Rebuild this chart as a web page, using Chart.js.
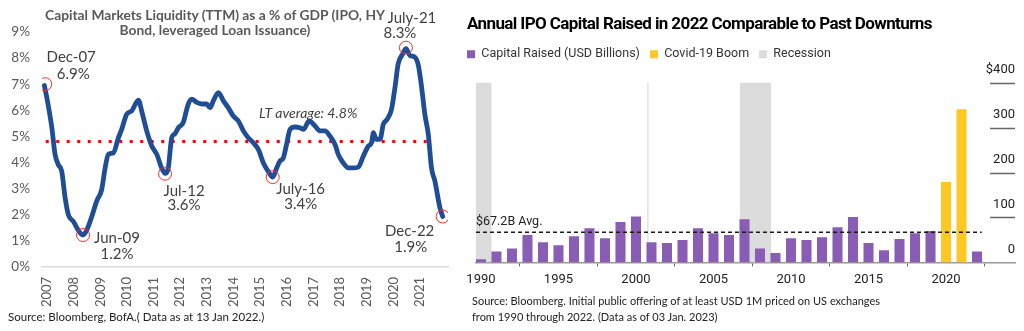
<!DOCTYPE html>
<html>
<head>
<meta charset="utf-8">
<script src="https://cdn.jsdelivr.net/npm/chart.js@4.4.1/dist/chart.umd.min.js"></script>
<style>
  html, body { margin: 0; padding: 0; background: #fff; }
  body { width: 1024px; height: 331px; position: relative; overflow: hidden; }
  .box { position: absolute; top: 0; height: 331px; }
  #leftBox { left: 0; width: 456px; }
  #rightBox { left: 457px; width: 567px; }
  .txt { position: absolute; white-space: nowrap; }
  #lTitle { left: 0; width: 430px; top: 7px; text-align: center; font: bold 13.8px Lato; color: #595959; line-height: 15px; }
  #lSource { left: 8px; top: 310px; font: 11.5px Lato; color: #222; line-height: 14px; }
  #rTitle { left: 467px; top: 12px; font: bold 17px Roboto; letter-spacing: -0.6px; color: #000; line-height: 22px; }
  #rSource { left: 472px; top: 293px; font: 11px Lato; color: #222; line-height: 16px; }
</style>
</head>
<body>
<div class="box" id="leftBox"><canvas id="liq"></canvas></div>
<div class="box" id="rightBox"><canvas id="ipo"></canvas></div>
<div class="txt" id="lTitle">Capital Markets Liquidity (TTM) as a % of GDP (IPO, HY<br>Bond, leveraged Loan Issuance)</div>
<div class="txt" id="lSource">Source: Bloomberg, BofA.( Data as at 13 Jan 2022.)</div>
<div class="txt" id="rTitle">Annual IPO Capital Raised in 2022 Comparable to Past Downturns</div>
<div class="txt" id="rSource">Source: Bloomberg. Initial public offering of at least USD 1M priced on US exchanges<br>from 1990 through 2022. (Data as of 03 Jan. 2023)</div>

<script>
// ---- left chart: liquidity as % of GDP ----
const liqDates = [
  2006.90, 2006.99, 2007.18, 2007.30, 2007.42, 2007.55, 2007.68, 2007.80, 2007.99, 2008.17,
  2008.34, 2008.49, 2008.68, 2008.86, 2009.05, 2009.18, 2009.30, 2009.49, 2009.68, 2009.80,
  2009.99, 2010.18, 2010.43, 2010.55, 2010.74, 2010.93, 2011.12, 2011.30, 2011.43, 2011.55,
  2011.68, 2011.80, 2011.93, 2012.11, 2012.30, 2012.43, 2012.62, 2012.80, 2012.99, 2013.12,
  2013.24, 2013.43, 2013.62, 2013.80, 2013.99, 2014.18, 2014.37, 2014.55, 2014.74, 2014.93,
  2015.12, 2015.30, 2015.47, 2015.62, 2015.74, 2015.87, 2015.99, 2016.12, 2016.31, 2016.49,
  2016.62, 2016.84, 2017.06, 2017.24, 2017.43, 2017.62, 2017.81, 2017.93, 2018.12, 2018.31,
  2018.49, 2018.68, 2018.87, 2019.06, 2019.18, 2019.25, 2019.35, 2019.50, 2019.62, 2019.77,
  2019.93, 2020.06, 2020.18, 2020.35, 2020.47, 2020.62, 2020.81, 2020.94, 2021.06, 2021.18,
  2021.31, 2021.43, 2021.56, 2021.75, 2021.85
];
const liqValues = [
  6.95, 6.49, 5.33, 4.31, 3.92, 3.66, 2.63, 1.99, 1.74, 1.41,
  1.22, 1.41, 1.93, 2.51, 2.96, 3.79, 4.31, 4.37, 4.95, 5.27,
  5.85, 5.98, 6.39, 5.98, 5.21, 4.63, 4.31, 3.79, 3.58, 3.79,
  4.95, 5.10, 5.33, 5.53, 6.24, 6.43, 6.30, 6.24, 6.24, 6.10,
  6.36, 6.68, 6.36, 6.10, 5.78, 5.59, 5.21, 4.95, 4.76, 4.50,
  3.98, 3.66, 3.44, 3.79, 4.05, 4.18, 4.69, 5.27, 5.36, 5.33,
  5.27, 5.59, 5.40, 5.21, 5.21, 5.01, 4.69, 4.31, 3.98, 3.79,
  3.79, 3.82, 4.24, 4.63, 4.76, 5.14, 4.89, 4.89, 5.46, 5.66,
  6.04, 6.88, 7.78, 8.16, 8.36, 8.10, 8.03, 7.71, 6.88, 5.85,
  5.08, 3.79, 3.28, 2.25, 1.93
];
const liqYearTicks = [2007, 2008, 2009, 2010, 2011, 2012, 2013, 2014, 2015, 2016, 2017, 2018, 2019, 2020, 2021];
const liqPctTicks = [0, 1, 2, 3, 4, 5, 6, 7, 8, 9];
const ltAverage = 4.8;
const ltAverageSpan = [2006.95, 2021.4];
const calloutNames = ['Dec-07', 'Jun-09', 'Jul-12', 'July-16', 'July-21', 'Dec-22'];
const calloutTexts = ['6.9%', '1.2%', '3.6%', '3.4%', '8.3%', '1.9%'];
const calloutDates = [2006.93, 2008.35, 2011.43, 2015.47, 2020.47, 2021.85];
const calloutValues = [7.0, 1.22, 3.57, 3.44, 8.4, 1.93];

// ---- right chart: annual IPO capital ----
const ipoYears = [1990, 1991, 1992, 1993, 1994, 1995, 1996, 1997, 1998, 1999, 2000, 2001, 2002, 2003, 2004, 2005,
  2006, 2007, 2008, 2009, 2010, 2011, 2012, 2013, 2014, 2015, 2016, 2017, 2018, 2019, 2020, 2021, 2022];
const ipoValues = [7, 24, 31, 61, 45, 38, 58, 76, 54, 90, 102, 45, 43, 50, 76, 65,
  61, 96, 31, 21, 54, 50, 56, 78, 101, 43, 27, 52, 65, 70, 179, 341, 24];
const covidYears = [2020, 2021];
const recessionStart = [1989.68, 2000.72, 2006.71];
const recessionEnd = [1990.69, 2000.82, 2008.71];
const ipoAverage = 67.2;
const ipoYearTicks = [1990, 1995, 2000, 2005, 2010, 2015, 2020];
const ipoValueTicks = [0, 100, 200, 300, 400];
const ipoValueLabels = ['0', '100', '200', '300', '$400'];

// red circles with their two-line labels
const calloutOffsets = [[26, -27, 28, -10], [34, 3, 34, 19], [19, 17, 19, 31], [28, 12, 28, 27], [6, -29, -6, -14], [-33, 15, -32, 31]];
const calloutPlugin = {
  id: 'callouts',
  afterDatasetsDraw(chart) {
    const {ctx, scales: {x, y}} = chart;
    ctx.save();
    ctx.fillStyle = '#404040';
    ctx.font = '15px Lato';
    ctx.textAlign = 'center';
    ctx.textBaseline = 'middle';
    calloutNames.forEach((name, i) => {
      const px = x.getPixelForValue(calloutDates[i]);
      const py = y.getPixelForValue(calloutValues[i]);
      const o = calloutOffsets[i];
      ctx.fillText(name, px + o[0], py + o[1]);
      ctx.fillText(calloutTexts[i], px + o[2], py + o[3]);
    });
    ctx.font = 'italic 14px Lato';
    ctx.fillText('LT average: ' + ltAverage + '%', x.getPixelForValue(2016.8), y.getPixelForValue(ltAverage) - 28);
    ctx.restore();
  }
};

new Chart(document.getElementById('liq'), {
  type: 'line',
  data: {
    datasets: [
      {
        label: 'Liquidity',
        data: liqDates.map((d, i) => ({x: d, y: liqValues[i]})),
        borderColor: '#1f4e96',
        borderWidth: 4.8,
        borderCapStyle: 'round',
        borderJoinStyle: 'round',
        cubicInterpolationMode: 'monotone',
        pointRadius: 0,
        order: 1
      },
      {
        label: 'LT average',
        data: ltAverageSpan.map(d => ({x: d, y: ltAverage})),
        borderColor: '#ff0000',
        borderWidth: 3,
        borderDash: [3, 7.5],
        pointRadius: 0,
        order: 2
      },
      {
        label: 'Callouts',
        data: calloutDates.map((d, i) => ({x: d, y: calloutValues[i]})),
        showLine: false,
        pointRadius: 6.5,
        pointBorderWidth: 1,
        pointBorderColor: '#ff2a2a',
        pointBackgroundColor: 'rgba(0,0,0,0)',
        order: 0
      }
    ]
  },
  options: {
    responsive: true,
    maintainAspectRatio: false,
    animation: false,
    layout: {padding: {top: 32, right: 8, bottom: 14, left: 0}},
    plugins: {legend: {display: false}, tooltip: {enabled: false}},
    scales: {
      x: {
        type: 'linear',
        min: 2006.81,
        max: 2022.05,
        afterBuildTicks: s => { s.ticks = liqYearTicks.map(v => ({value: v})); },
        grid: {display: false, drawTicks: false},
        border: {color: '#d9d9d9', width: 1.5},
        ticks: {autoSkip: false, minRotation: 90, maxRotation: 90, padding: 10, color: '#595959',
          font: {family: 'Lato', size: 13}, callback: v => String(v)}
      },
      y: {
        min: 0,
        max: 9,
        afterBuildTicks: s => { s.ticks = liqPctTicks.map(v => ({value: v})); },
        afterFit: s => { s.width = 42; },
        grid: {display: false, drawTicks: false},
        border: {display: false},
        ticks: {padding: 12, color: '#595959', font: {family: 'Lato', size: 13.5}, callback: v => v + '%'}
      }
    }
  },
  plugins: [calloutPlugin]
});

// recession bands as filled segments, broken by nulls
const recessionData = [];
recessionStart.forEach((s, i) => {
  if (i > 0) recessionData.push({x: s - 0.01, y: null});
  recessionData.push({x: s, y: 400}, {x: recessionEnd[i], y: 400});
});

const ipoAxisPlugin = {
  id: 'ipoAxis',
  afterDatasetsDraw(chart) {
    const {ctx, chartArea, scales: {y}} = chart;
    ctx.save();
    ctx.fillStyle = '#222';
    ctx.font = '12.5px Roboto';
    ctx.textAlign = 'left';
    ctx.textBaseline = 'middle';
    ctx.fillText('$' + ipoAverage + 'B Avg.', chartArea.left, y.getPixelForValue(ipoAverage) - 10);
    ctx.strokeStyle = '#666';
    ctx.lineWidth = 1.5;
    ipoValueTicks.forEach(v => {
      if (v === 0) return;
      const py = Math.round(y.getPixelForValue(v)) + 0.5;
      ctx.beginPath();
      ctx.moveTo(chartArea.right - 25, py);
      ctx.lineTo(chartArea.right, py);
      ctx.stroke();
    });
    ctx.restore();
  }
};

new Chart(document.getElementById('ipo'), {
  type: 'bar',
  data: {
    datasets: [
      {
        label: 'Capital Raised (USD Billions)',
        data: ipoYears.map((yr, i) => ({x: yr, y: covidYears.includes(yr) ? null : ipoValues[i]})),
        backgroundColor: '#8a5db5',
        borderWidth: 0,
        grouped: false,
        barPercentage: 0.72,
        categoryPercentage: 0.9,
        order: 1
      },
      {
        label: 'Covid-19 Boom',
        data: ipoYears.map((yr, i) => ({x: yr, y: covidYears.includes(yr) ? ipoValues[i] : null})),
        backgroundColor: '#fdc823',
        borderWidth: 0,
        grouped: false,
        barPercentage: 0.72,
        categoryPercentage: 0.9,
        order: 1
      },
      {
        type: 'line',
        label: 'Recession',
        data: recessionData,
        backgroundColor: '#dcdcdc',
        borderColor: '#dcdcdc',
        borderWidth: 0,
        pointRadius: 0,
        fill: 'origin',
        spanGaps: false,
        order: 3
      },
      {
        type: 'line',
        label: 'Average',
        data: [{x: 1989.68, y: ipoAverage}, {x: 2022.3, y: ipoAverage}],
        borderColor: '#1a1a1a',
        borderWidth: 1.5,
        borderDash: [4, 3],
        pointRadius: 0,
        order: 0
      }
    ]
  },
  options: {
    responsive: true,
    maintainAspectRatio: false,
    animation: false,
    layout: {padding: {top: 38, right: 9, bottom: 37, left: 0}},
    plugins: {
      tooltip: {enabled: false},
      legend: {
        position: 'top',
        align: 'start',
        labels: {
          boxWidth: 8,
          boxHeight: 8,
          padding: 10,
          color: '#333',
          font: {family: 'Roboto', size: 12.5},
          filter: item => item.text !== 'Average'
        }
      }
    },
    scales: {
      x: {
        type: 'linear',
        min: 1989.68,
        max: 2024.45,
        offset: false,
        afterBuildTicks: s => { s.ticks = ipoYearTicks.map(v => ({value: v})); },
        grid: {display: true, drawOnChartArea: false, drawTicks: true, tickLength: 4, color: '#666'},
        border: {color: '#999', width: 1.5},
        ticks: {maxRotation: 0, padding: 6, color: '#222', font: {family: 'Roboto', size: 13}, callback: v => String(v)}
      },
      y: {
        position: 'right',
        min: 0,
        max: 427,
        afterBuildTicks: s => { s.ticks = ipoValueTicks.map(v => ({value: v})); },
        grid: {display: false, drawTicks: false},
        border: {display: false},
        ticks: {mirror: true, padding: 0, labelOffset: -13, color: '#222', font: {family: 'Roboto', size: 13},
          callback: v => ipoValueLabels[ipoValueTicks.indexOf(v)]}
      },
      pad: {
        type: 'linear',
        position: 'left',
        afterFit: s => { s.width = 19; },
        grid: {display: false, drawTicks: false},
        border: {display: false},
        ticks: {display: false}
      }
    }
  },
  plugins: [ipoAxisPlugin]
});
</script>
</body>
</html>
